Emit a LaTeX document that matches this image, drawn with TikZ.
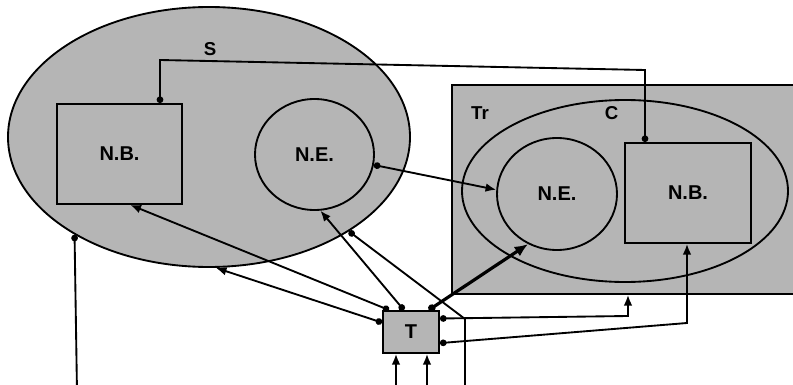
\documentclass[tikz,border=0pt]{standalone}
\usepackage{fontspec}
\setmainfont{Liberation Sans}
\usetikzlibrary{shapes.geometric,arrows.meta}
\definecolor{screen}{gray}{0.71}
\tikzset{
  region/.style={draw=black, line width=1.4pt, fill=screen, inner sep=0pt},
  oval/.style={region, ellipse},
  box/.style={region, rectangle},
  lbl/.style={font=\bfseries\fontsize{15}{15}\selectfont},
  tag/.style={font=\bfseries\fontsize{14}{14}\selectfont, inner sep=0pt},
  wire/.style={line width=1.4pt},
  link/.style={wire, {Circle[length=5pt]}-{Latex[length=8pt,width=6.5pt]}},
  heavylink/.style={line width=2.4pt, {Circle[length=5.5pt]}-{Latex[length=10pt,width=8.5pt]}},
  bilink/.style={wire, {Circle[length=5pt]}-{Circle[length=5pt]}},
  feed/.style={wire, -{Latex[length=8pt,width=6.5pt]}},
  tap/.style={wire, -{Circle[length=5pt]}},
}
\begin{document}
\begin{tikzpicture}[x=0.75pt,y=-0.75pt]
\useasboundingbox (0,0) rectangle (793,385);

% system S with its building and element
\node[oval, minimum width=301.5pt, minimum height=195pt] (S) at (209,137) {};
\node[tag] (lS) at (210,49) {S};
\node[box, lbl, minimum width=93.75pt, minimum height=75pt] (nbL) at (119.5,154) {N.B.};
\node[oval, lbl, minimum width=89.25pt, minimum height=83.25pt] (neL) at (314.5,154.5) {N.E.};

% transfer area Tr holding component C
\node[box, minimum width=260.25pt, minimum height=156.75pt] (Tr) at (625.5,189.5) {};
\node[tag] (lTr) at (480,113.5) {Tr};
\node[oval, minimum width=244.5pt, minimum height=136.5pt] (C) at (625,191) {};
\node[tag] (lC) at (611.5,113.5) {C};
\node[oval, lbl, minimum width=90pt, minimum height=84pt] (neR) at (557,194) {N.E.};
\node[box, lbl, minimum width=94.5pt, minimum height=75pt] (nbR) at (688,193) {N.B.};

% transformer T
\node[box, lbl, minimum width=42pt, minimum height=31.5pt] (T) at (411,332) {T};

% bend points and free ends
\coordinate (k1) at (160,60);
\coordinate (k2) at (645,70);
\coordinate (k3) at (628,316);
\coordinate (k4) at (687,323);
\coordinate (k5) at (465,319);
\coordinate (f1) at (465,392);
\coordinate (f2) at (77,392);
\coordinate (f3) at (396,392);
\coordinate (f4) at (427,392);

% links between the two buildings and elements
\draw[bilink] (k1 |- nbL.north) -- (k1) -- (k2) -- (k2 |- nbR.north);
\draw[link] (neL.-10) -- (neR.176);

% outputs of T
\draw[link] (T.162) -- (S.-87);
\draw[link] (T.135) -- (nbL.-78);
\draw[link] (T.108) -- (neL.-84);
\draw[heavylink] (T.51) -- (neR.-120);
\draw[link] (T.25) -- (k3) -- (k3 |- Tr.south);
\draw[link] (T.-21) -- (k4) -- (k4 |- nbR.south);

% lines leaving S
\draw[tap] (f1) -- (k5) -- (S.-34.6);
\draw[tap] (f2) -- (S.216.5);

% inputs of T
\draw[feed] (f3) -- (f3 |- T.south);
\draw[feed] (f4) -- (f4 |- T.south);
\end{tikzpicture}
\end{document}
